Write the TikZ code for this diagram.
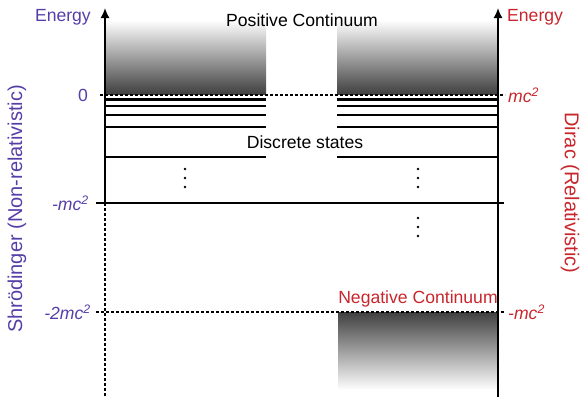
\documentclass[tikz,border=0pt]{standalone}
\usepackage{fontspec}
\setmainfont{Liberation Sans}
\usetikzlibrary{arrows.meta}
\definecolor{schblue}{RGB}{86,62,168}
\definecolor{dirred}{RGB}{200,38,44}
\tikzset{
  lbl/.style={inner sep=0pt, font=\fontsize{17.6}{19}\selectfont},
  sidelbl/.style={inner sep=0pt, font=\fontsize{20}{22}\selectfont},
  axis/.style={line width=1.6pt},
  level/.style={line width=2.2pt},
  dashline/.style={line width=1.1pt, dash pattern=on 3pt off 2pt},
  dotsym/.style={circle, fill=black, inner sep=0pt, minimum size=2.8pt},
}
\newcommand{\msq}[1]{\textit{#1}\textsuperscript{\textit{2}}}
\begin{document}
\begin{tikzpicture}[x=1pt,y=-1pt]
\useasboundingbox (0,0) rectangle (582,397);
% shaded continua
\shade[top color=white, middle color=black!25, bottom color=black!75] (105,20) rectangle (266,94);
\shade[top color=white, middle color=black!25, bottom color=black!75] (337,20) rectangle (498,94);
\shade[top color=black!75, middle color=black!28, bottom color=white] (338,312) rectangle (498,390);
% coordinates
\coordinate (lb) at (105,397);
\coordinate (lm) at (105,203);
\coordinate (lt) at (105,8);
\coordinate (rb) at (498,397);
\coordinate (rt) at (498,8);
% zero dashed line
\coordinate (z0) at (100,95); \coordinate (z1) at (505,95);
\draw[dashline] (z0) -- (z1);
% discrete levels
\foreach \y [count=\i] in {99.5,106,115,127,157}{
  \coordinate (la\i) at (105,\y); \coordinate (lz\i) at (266,\y);
  \coordinate (ra\i) at (337,\y); \coordinate (rz\i) at (498,\y);
  \draw[level] (la\i) -- (lz\i);
  \draw[level] (ra\i) -- (rz\i);
}
% -mc^2 line
\coordinate (m0) at (96,203); \coordinate (m1) at (504,203);
\draw[line width=1.3pt] (m0) -- (m1);
% -2mc^2 dashed line
\coordinate (n0) at (96,312); \coordinate (n1) at (505,312);
\draw[dashline] (n0) -- (n1);
% axes
\draw[axis, -{Latex[length=10pt,width=9pt]}] (lm) -- (lt);
\draw[line width=1.3pt, dash pattern=on 3pt off 2pt] (lm) -- (lb);
\draw[axis, -{Latex[length=10pt,width=9pt]}] (rb) -- (rt);
% dots
\foreach \x/\ys in {185/{169,178,187}, 418/{169,178,187}, 418/{218,227,236}}{
  \foreach \y in \ys { \node[dotsym] at (\x,\y) {}; }
}
% texts
\node[lbl, anchor=east, text=schblue] (eL) at (91,17) {Energy};
\node[lbl, anchor=west, text=dirred] (eR) at (507,17) {Energy};
\node[lbl] (pc) at (302,20) {Positive Continuum};
\node[lbl] (ds) at (305,142) {Discrete states};
\node[lbl, text=dirred] (nc) at (418,299) {Negative Continuum};
\node[lbl, anchor=east, text=schblue] (l0) at (88,95) {0};
\node[lbl, anchor=east, text=schblue] (l1) at (89,203) {\msq{-mc}};
\node[lbl, anchor=east, text=schblue] (l2) at (91,312) {\msq{-2mc}};
\node[lbl, anchor=west, text=dirred] (r0) at (508,95) {\msq{mc}};
\node[lbl, anchor=west, text=dirred] (r1) at (508,312) {\msq{-mc}};
\node[sidelbl, rotate=90, text=schblue] (sch) at (17,209) {Shrödinger (Non-relativistic)};
\node[sidelbl, rotate=-90, text=dirred] (dir) at (570,193) {Dirac (Relativistic)};
\end{tikzpicture}
\end{document}
